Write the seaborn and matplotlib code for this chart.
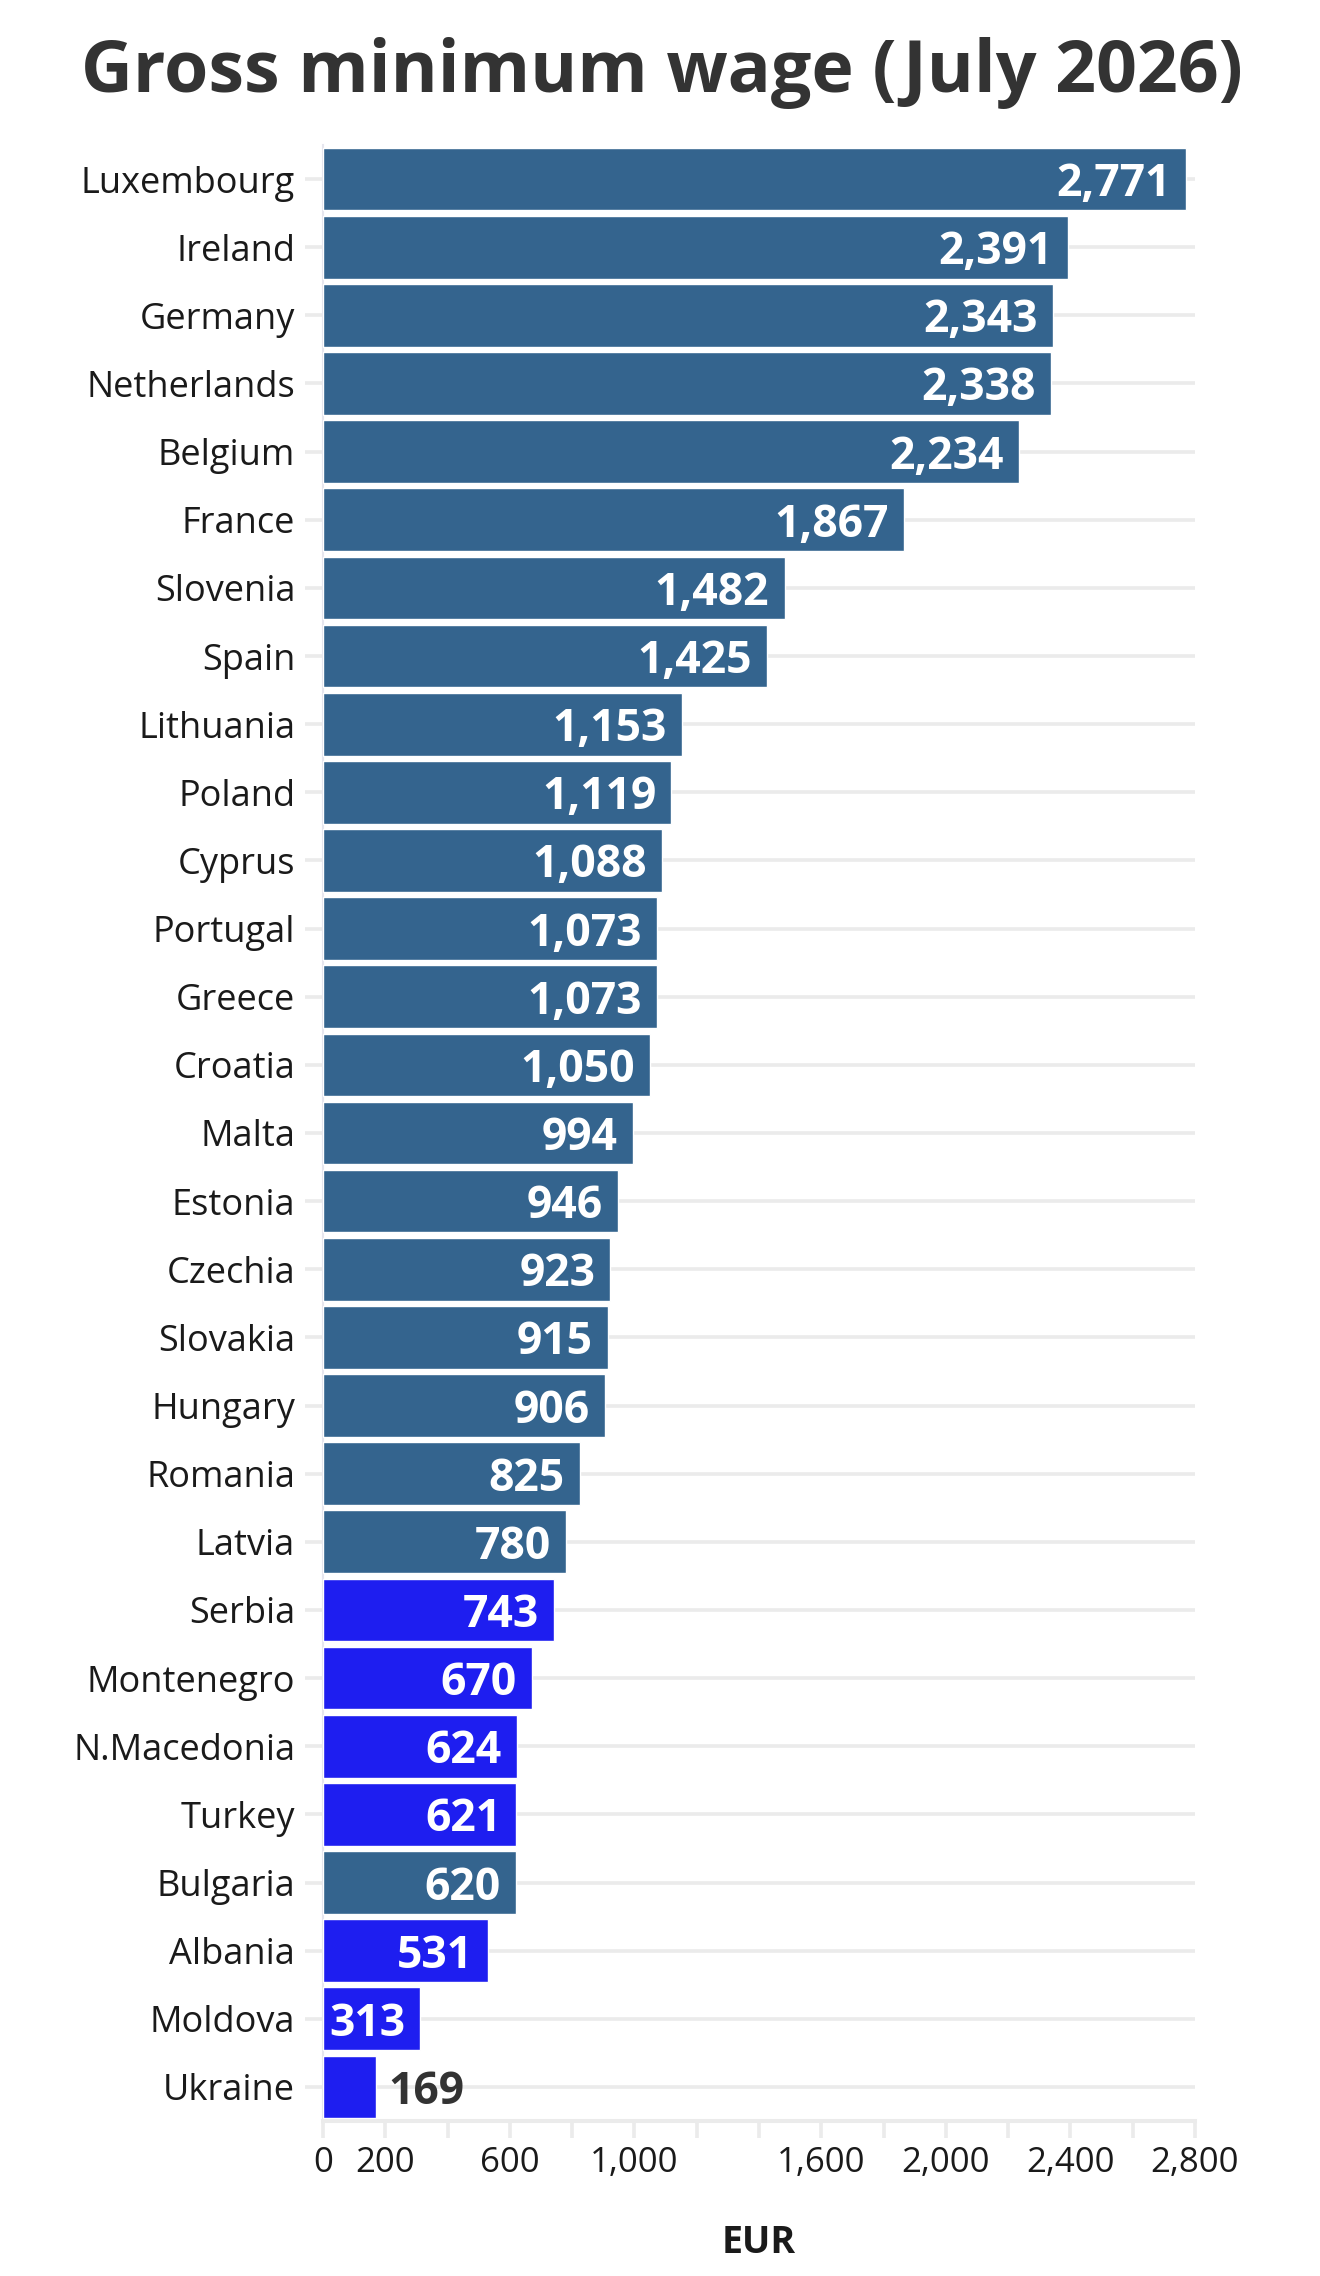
import pandas as pd
import matplotlib
matplotlib.use('Agg')
import matplotlib.pyplot as plt
import seaborn as sns

# Datos
paises = ['Luxembourg', 'Ireland', 'Germany', 'Netherlands', 'Belgium', 'France',
          'Slovenia', 'Spain', 'Lithuania', 'Poland', 'Cyprus', 'Portugal', 'Greece',
          'Croatia', 'Malta', 'Estonia', 'Czechia', 'Slovakia', 'Hungary', 'Romania',
          'Latvia', 'Serbia', 'Montenegro', 'N.Macedonia', 'Turkey', 'Bulgaria',
          'Albania', 'Moldova', 'Ukraine']
salarios = [2771, 2391, 2343, 2338, 2234, 1867, 1482, 1425, 1153, 1119, 1088, 1073,
            1073, 1050, 994, 946, 923, 915, 906, 825, 780, 743, 670, 624, 621, 620,
            531, 313, 169]
grupos = ['EU'] * 21 + ['non-EU'] * 4 + ['EU'] + ['non-EU'] * 3
ticks_x = list(range(0, 2801, 200))
etiquetas_x = ['0', '200', '', '600', '', '1,000', '', '', '1,600', '', '2,000', '',
               '2,400', '', '2,800']

df = pd.DataFrame({'pais': paises, 'salario': salarios, 'grupo': grupos})

sns.set_style('white')
plt.rcParams['font.family'] = ['Open Sans', 'DejaVu Sans']

gris = '#ebebeb'
fig = plt.figure(figsize=(13.2, 22.76), dpi=100)
ax = fig.add_axes([323 / 1320, 1 - 2121 / 2276, 872 / 1320, 1976 / 2276])

sns.barplot(data=df, x='salario', y='pais', hue='grupo', dodge=False, legend=False,
            palette={'EU': '#34648e', 'non-EU': '#1e1ef0'}, width=0.92,
            saturation=1, ax=ax, zorder=3)

ax.set_xlim(0, 2800)
ax.set_ylim(28.5, -0.5)
ax.set_xticks(ticks_x)
ax.set_xticklabels(etiquetas_x)
ax.set_yticks(range(len(paises)))
ax.set_yticklabels(paises)
ax.set_xlabel('')
ax.set_ylabel('')

for y in range(len(paises)):
    ax.axhline(y, color=gris, lw=2.6, zorder=1)

for s in ['top', 'right']:
    ax.spines[s].set_visible(False)
ax.spines['bottom'].set_color(gris)
ax.spines['bottom'].set_linewidth(2.9)
ax.spines['left'].set_color('#e6e6ee')
ax.spines['left'].set_linewidth(1.5)

ax.tick_params(axis='y', length=13, width=2.6, color=gris, pad=7,
               labelsize=26, labelcolor='#1a1a1a', left=True)
ax.tick_params(axis='x', length=12, width=2.6, color=gris, pad=6,
               labelsize=25, labelcolor='#1a1a1a', bottom=True)

for i, v in enumerate(salarios):
    texto = f'{v:,}'
    if v > 250:
        ax.annotate(texto, (v, i), xytext=(-11, 0), textcoords='offset points',
                    ha='right', va='center_baseline', color='white', fontsize=32,
                    fontweight='bold', zorder=5)
    else:
        ax.annotate(texto, (v, i), xytext=(9, 0), textcoords='offset points',
                    ha='left', va='center_baseline', color='#333333', fontsize=32,
                    fontweight='bold', zorder=5)

fig.text(0.5015, 1 - 92 / 2276, 'Gross minimum wage (July 2026)', ha='center',
         va='baseline', fontsize=51.6, fontweight='bold', color='#333333')
fig.text(759 / 1320, 1 - 2243 / 2276, 'EUR', ha='center', va='center',
         fontsize=27, fontweight='bold', color='#1a1a1a')

fig.savefig('out.png', dpi=100, facecolor='white')
